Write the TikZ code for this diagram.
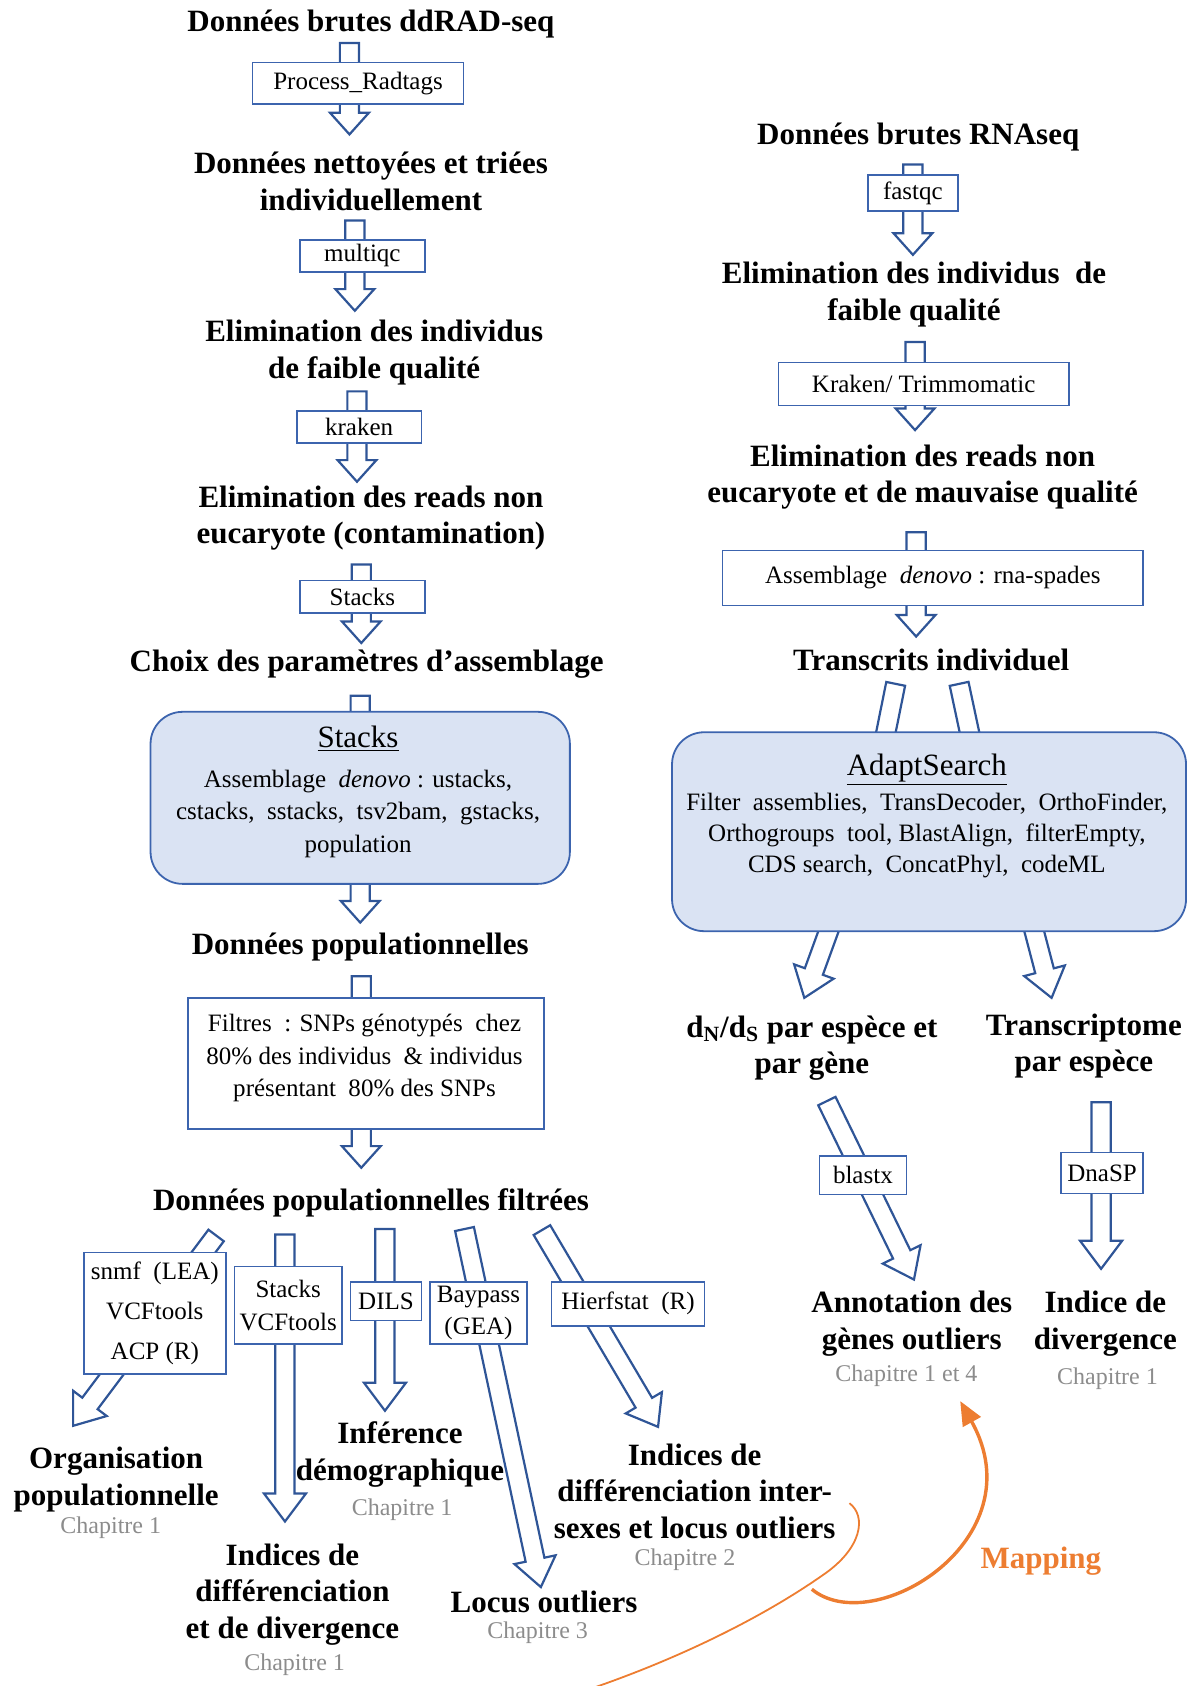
\documentclass[tikz,border=0pt]{standalone}
\usepackage{fontspec}
\setmainfont{Liberation Serif}
\usepackage{tikz}
\usetikzlibrary{calc}
\usetikzlibrary{arrows.meta}
\usepackage{xcolor}

\definecolor{arrowblue}{HTML}{2F5597}
\definecolor{boxblue}{HTML}{3C64AE}
\definecolor{panelblue}{HTML}{DAE3F3}
\definecolor{chapgrey}{HTML}{8C8C8C}
\definecolor{maporange}{HTML}{ED7D31}

% one picture unit = one pixel of the reduced page
\def\upx{0.5375pt}
% hollow arrow: shaft half width, head half width, head length
\def\baw{4.8pt}
\def\bah{9.7pt}
\def\bal{10.8pt}
\newcommand{\barr}[2]{%
  \coordinate (ba-n) at ($(#2)!\bal!(#1)$);
  \draw[blockarrow] ($(#1)!\baw!90:(#2)$) -- ($(ba-n)!\baw!90:(#2)$)
    -- ($(ba-n)!\bah!90:(#2)$) -- (#2) -- ($(ba-n)!\bah!-90:(#2)$)
    -- ($(ba-n)!\baw!-90:(#2)$) -- ($(#1)!\baw!-90:(#2)$) -- cycle;
}

\tikzset{
  ttl/.style={align=center, inner sep=0pt, yshift=-1.5pt, font=\fontsize{15.5}{18.3}\selectfont\bfseries},
  tool/.style={draw=boxblue, line width=0.8pt, fill=white, align=center, inner sep=0pt,
    font=\fontsize{12.5}{16.2}\selectfont},
  panel/.style={draw=boxblue, line width=0.9pt, fill=panelblue, rounded corners=16pt, inner sep=0pt},
  paneltext/.style={align=center, inner sep=0pt, font=\fontsize{12.5}{16.2}\selectfont},
  paneltitle/.style={inner sep=0pt, font=\fontsize{15.5}{18}\selectfont},
  chap/.style={inner sep=0pt, yshift=-1pt, text=chapgrey, font=\fontsize{12}{14}\selectfont},
  blockarrow/.style={draw=arrowblue, line width=1.1pt, fill=white, line join=miter},
  mapthick/.style={draw=maporange, line width=1.7pt, -{Triangle[length=12pt,width=10pt]}},
  mapthin/.style={draw=maporange, line width=0.9pt}
}

\begin{document}
\begin{tikzpicture}[x=0.5375pt, y=-0.5375pt]
\useasboundingbox (0,0) rectangle (1106,1568);

% arrow ends
\coordinate (a1t) at (325,40);   \coordinate (a1h) at (325,125);
\coordinate (a2t) at (330,205);  \coordinate (a2h) at (330,289);
\coordinate (a3t) at (332,364);  \coordinate (a3h) at (332,448);
\coordinate (a4t) at (336,525);  \coordinate (a4h) at (336,598);
\coordinate (a5t) at (335,647);  \coordinate (a5h) at (335,720);
\coordinate (a6t) at (335,790);  \coordinate (a6h) at (335,858);
\coordinate (a7t) at (336,908);  \coordinate (a7h) at (336,1086);
\coordinate (c1t) at (849,153);  \coordinate (c1h) at (849,237);
\coordinate (c2t) at (851,318);  \coordinate (c2h) at (851,400);
\coordinate (c3t) at (852,495);  \coordinate (c3h) at (852,592);
\coordinate (c4t) at (833,636);  \coordinate (c4h) at (815,725);
\coordinate (c5t) at (892,636);  \coordinate (c5h) at (911,725);

\barr{a1t}{a1h}
\barr{a2t}{a2h}
\barr{a3t}{a3h}
\barr{a4t}{a4h}
\barr{a5t}{a5h}
\barr{a6t}{a6h}
\barr{a7t}{a7h}
\barr{c1t}{c1h}
\barr{c2t}{c2h}
\barr{c3t}{c3h}
\barr{c4t}{c4h}
\barr{c5t}{c5h}

% branches
\begin{scope}
\def\bah{10.5pt}
\def\bal{14pt}
\coordinate (b1t) at (201,1149);  \coordinate (b1h) at (68,1326);
\coordinate (b2t) at (265,1148);  \coordinate (b2h) at (265,1415);
\coordinate (b3t) at (358,1143);  \coordinate (b3h) at (358,1312);
\coordinate (b4t) at (432,1143);  \coordinate (b4h) at (503,1476);
\coordinate (b5t) at (504,1144);  \coordinate (b5h) at (612,1327);
\coordinate (c6t) at (780,840);   \coordinate (c6h) at (748,928);
\coordinate (c7t) at (955,840);   \coordinate (c7h) at (978,928);
\coordinate (c8t) at (769,1024);  \coordinate (c8h) at (850,1190);
\coordinate (c9t) at (1024,1025); \coordinate (c9h) at (1024,1180);
\barr{b1t}{b1h}
\barr{b2t}{b2h}
\barr{b3t}{b3h}
\barr{b4t}{b4h}
\barr{b5t}{b5h}
\barr{c6t}{c6h}
\barr{c7t}{c7h}
\barr{c8t}{c8h}
\barr{c9t}{c9h}
\end{scope}

% ddRAD-seq side
\node[ttl] (t1) at (345,20) {Données brutes ddRAD-seq};
\node[tool, minimum width=196*\upx, minimum height=39*\upx] (prt) at (333,77.5) {Process\_Radtags};
\node[ttl] (t2) at (345,166) {Données nettoyées et triées\\individuellement};
\node[tool, minimum width=116*\upx, minimum height=30*\upx] (mqc) at (337,238) {multiqc};
\node[ttl] (t3) at (348,325) {Elimination des individus\\de faible qualité};
\node[tool, minimum width=116*\upx, minimum height=30*\upx] (krk) at (334,397) {kraken};
\node[ttl] (t4) at (345,479) {Elimination des reads non\\eucaryote (contamination)};
\node[tool, minimum width=116*\upx, minimum height=30*\upx] (stk) at (337,555) {Stacks};
\node[ttl] (t5) at (341,615) {Choix des paramètres d’assemblage};

\node[panel, minimum width=390*\upx, minimum height=160*\upx] (stpanel) at (335,742) {};
\node[paneltitle] (sttitle) at (333,687) {\underline{Stacks}};
\node[paneltext] (stbody) at (333,757) {Assemblage \ \textit{denovo} : ustacks,\\cstacks, \ sstacks, \ tsv2bam, \ gstacks,\\population};

\node[ttl] (t6) at (335,878) {Données populationnelles};
\node[tool, minimum width=331*\upx, minimum height=122*\upx] (fltbox) at (340.5,989) {};
\node[paneltext] (flttext) at (339,984) {Filtres \ : SNPs génotypés \ chez\\80\% des individus \ \& individus\\présentant \ 80\% des SNPs};
\node[ttl] (t7) at (345,1116) {Données populationnelles filtrées};

\node[tool, minimum width=132*\upx, minimum height=113*\upx, font=\fontsize{12.5}{19.9}\selectfont] (snmf) at (144,1221.5) {snmf \ (LEA)\\VCFtools\\ACP (R)};
\node[tool, minimum width=100*\upx, minimum height=72*\upx] (stv) at (268,1214) {Stacks\\VCFtools};
\node[tool, minimum width=66*\upx, minimum height=36*\upx] (dils) at (359,1210) {DILS};
\node[tool, minimum width=90*\upx, minimum height=58*\upx] (bay) at (445,1221) {Baypass\\(GEA)};
\node[tool, minimum width=142*\upx, minimum height=41*\upx] (hier) at (584,1212.5) {Hierfstat \ (R)};

\node[ttl] (o1) at (108,1373) {Organisation\\populationnelle};
\node[chap] (ch1) at (103,1419) {Chapitre 1};
\node[ttl] (o2) at (272,1480) {Indices de\\différenciation\\et de divergence};
\node[chap] (ch2) at (274,1546) {Chapitre 1};
\node[ttl] (o3) at (372,1350) {Inférence\\démographique};
\node[chap] (ch3) at (374,1402) {Chapitre 1};
\node[ttl] (o4) at (506,1487) {Locus outliers};
\node[chap] (ch4) at (500,1517) {Chapitre 3};
\node[ttl] (o5) at (646,1384) {Indices de\\différenciation inter-\\sexes et locus outliers};
\node[chap] (ch5) at (637,1449) {Chapitre 2};

% RNAseq side
\node[ttl] (r1) at (854,125) {Données brutes RNAseq};
\node[tool, minimum width=84*\upx, minimum height=33*\upx] (fqc) at (849,179.5) {fastqc};
\node[ttl] (r2) at (850,271) {Elimination des individus \ de\\faible qualité};
\node[tool, minimum width=270*\upx, minimum height=40*\upx] (ktr) at (859,357) {Kraken/ Trimmomatic};
\node[ttl] (r3) at (858,441) {Elimination des reads non\\eucaryote et de mauvaise qualité};
\node[tool, minimum width=391*\upx, minimum height=51*\upx] (rsp) at (867.5,537.5) {Assemblage \ \textit{denovo} : rna-spades};
\node[ttl] (r4) at (866,611) {Transcrits individuel};

\node[panel, minimum width=478*\upx, minimum height=185*\upx] (adpanel) at (864,773.5) {};
\node[paneltitle] (adtitle) at (862,716) {\underline{AdaptSearch}};
\node[paneltext, font=\fontsize{12.5}{15.6}\selectfont] (adbody) at (862,777) {Filter \ assemblies, \ TransDecoder, \ OrthoFinder,\\Orthogroups \ tool, BlastAlign, \ filterEmpty,\\CDS search, \ ConcatPhyl, \ codeML};

\node[ttl] (r5) at (755,972) {d\textsubscript{N}/d\textsubscript{S} par espèce et\\par gène};
\node[ttl] (r6) at (1008,970) {Transcriptome\\par espèce};
\node[tool, minimum width=81*\upx, minimum height=36*\upx] (blx) at (802.5,1093) {blastx};
\node[tool, minimum width=76*\upx, minimum height=38*\upx] (dsp) at (1025,1091) {DnaSP};
\node[ttl] (r7) at (848,1228) {Annotation des\\gènes outliers};
\node[chap] (ch7) at (843,1278) {Chapitre 1 et 4};
\node[ttl] (r8) at (1028,1228) {Indice de\\divergence};
\node[chap] (ch8) at (1030,1280) {Chapitre 1};

% mapping
\coordinate (mp1) at (755,1478);
\coordinate (mp2) at (893,1303);
\coordinate (hk1) at (790,1398);
\coordinate (hk2) at (545,1572);
\draw[mapthin] (hk1) .. controls (806,1410) and (802,1440) .. (765,1465)
  .. controls (705,1507) and (625,1545) .. (hk2);
\draw[mapthick] (mp1) .. controls (812,1525) and (965,1432) .. (mp2);
\node[ttl, text=maporange] (mapl) at (968,1449) {Mapping};
\end{tikzpicture}
\end{document}
